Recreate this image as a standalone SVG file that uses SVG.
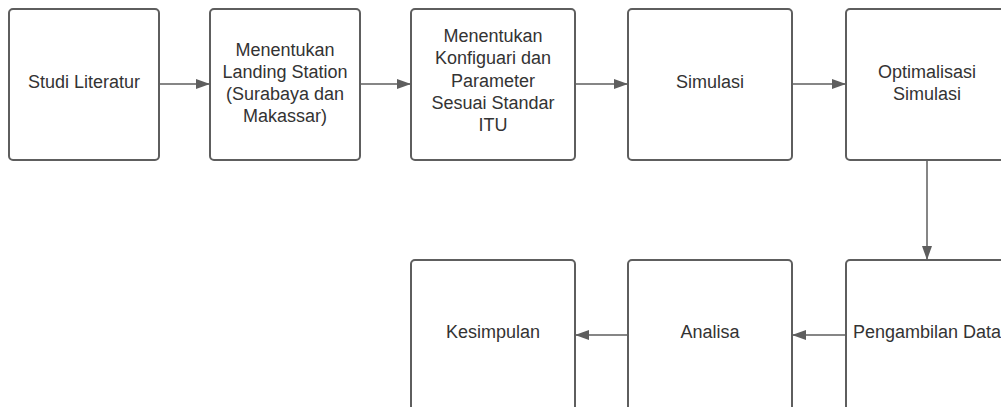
<svg xmlns="http://www.w3.org/2000/svg" width="1001" height="407" viewBox="0 0 1001 407">
<style>
.box{fill:#fff;stroke:#5e5e5e;stroke-width:2}
.t{font-family:"Liberation Sans",Arial,sans-serif;font-size:18px;fill:#333;text-anchor:middle}
.c{stroke:#5e5e5e;stroke-width:1.5;fill:none}
</style>
<defs>
<marker id="ah" markerWidth="14" markerHeight="10" refX="13" refY="5" orient="auto" markerUnits="userSpaceOnUse">
<path d="M0,0 L14,5 L0,10 Z" fill="#5e5e5e"/>
</marker>
</defs>
<rect width="1001" height="407" fill="#fff"/>
<g id="n1"><rect class="box" x="9" y="9" width="150" height="151" rx="4"/><text class="t" x="84" y="88">Studi Literatur</text></g>
<g id="n2"><rect class="box" x="210" y="9" width="150" height="151" rx="4"/><text class="t" x="285" y="56">Menentukan<tspan x="285" dy="22">Landing Station</tspan><tspan x="285" dy="22">(Surabaya dan</tspan><tspan x="285" dy="22">Makassar)</tspan></text></g>
<g id="n3"><rect class="box" x="411" y="9" width="164" height="151" rx="4"/><text class="t" x="493" y="42">Menentukan<tspan x="493" dy="22.3">Konfiguari dan</tspan><tspan x="493" dy="22.3">Parameter</tspan><tspan x="493" dy="22.3">Sesuai Standar</tspan><tspan x="493" dy="22.3">ITU</tspan></text></g>
<g id="n4"><rect class="box" x="628" y="9" width="164" height="151" rx="4"/><text class="t" x="710" y="88">Simulasi</text></g>
<g id="n5"><rect class="box" x="846" y="9" width="163" height="151" rx="4"/><text class="t" x="927" y="78">Optimalisasi<tspan x="927" dy="22">Simulasi</tspan></text></g>
<g id="n6"><rect class="box" x="846" y="260" width="163" height="160" rx="4"/><text class="t" x="927" y="338">Pengambilan Data</text></g>
<g id="n7"><rect class="box" x="628" y="260" width="164" height="160" rx="4"/><text class="t" x="710" y="338">Analisa</text></g>
<g id="n8"><rect class="box" x="411" y="260" width="164" height="160" rx="4"/><text class="t" x="493" y="338">Kesimpulan</text></g>
<g id="connectors">
<line class="c" x1="160" y1="84" x2="209" y2="84" marker-end="url(#ah)"/>
<line class="c" x1="361" y1="84" x2="410" y2="84" marker-end="url(#ah)"/>
<line class="c" x1="576" y1="84" x2="627" y2="84" marker-end="url(#ah)"/>
<line class="c" x1="793" y1="84" x2="845" y2="84" marker-end="url(#ah)"/>
<line class="c" x1="927" y1="161" x2="927" y2="259" marker-end="url(#ah)"/>
<line class="c" x1="845" y1="335" x2="793" y2="335" marker-end="url(#ah)"/>
<line class="c" x1="627" y1="335" x2="576" y2="335" marker-end="url(#ah)"/>
</g>
</svg>
